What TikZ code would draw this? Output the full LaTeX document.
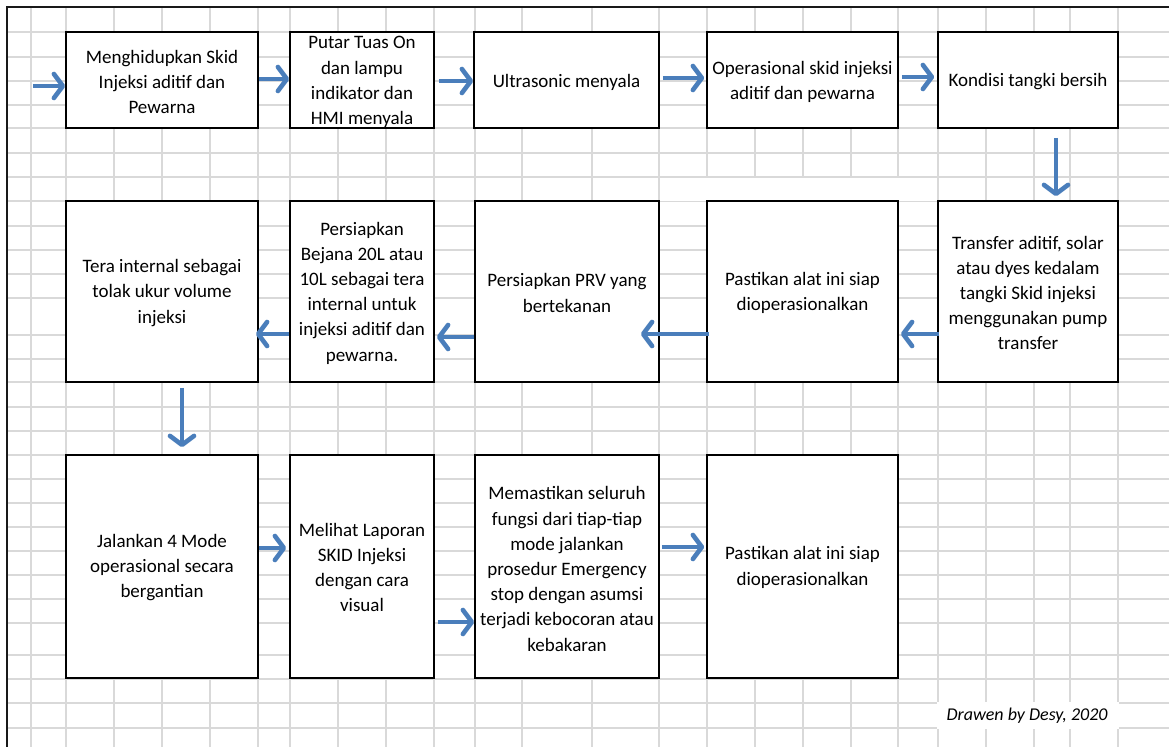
\documentclass[tikz,border=0pt]{standalone}
\usepackage{fontspec}
\setmainfont{Carlito}
\usetikzlibrary{arrows.meta}
\definecolor{gridgray}{HTML}{D9D9D9}
\definecolor{flowblue}{HTML}{4A7EBB}
\newcommand{\boxfont}{\fontsize{19}{25.2}\selectfont}

\begin{document}
\begin{tikzpicture}[x=1pt,y=-1pt,
  stepbox/.style={draw=black, line width=1.6pt, fill=white, inner sep=0pt},
  steptext/.style={inner sep=0pt, align=center, font=\boxfont},
  gridline/.style={draw=gridgray, line width=1.5pt},
  flow/.style={draw=flowblue, line width=4.6pt,
    -{Straight Barb[length=9pt,width=24pt,round]}}]

\useasboundingbox (0,0) rectangle (1169,747);
\fill[white] (0,0) rectangle (1169,747);

% spreadsheet grid
\foreach \gx in {31,66,114,162,210,258,290,338,386,434,475,522,592,659,707,755,803,851,898,938,986,1034,1070,1118}
  \draw[gridline] (\gx,7) -- (\gx,747);
\foreach \gy in {32,57,81,105,128,153,177,201,226,250,274,298,335,359,382,407,431,455,479,503,527,551,575,599,623,655,679,703,728}
  \draw[gridline] (7,\gy) -- (1169,\gy);
% blank cells
\fill[white] (659.8,178.3) rectangle (937.2,200.5);
\fill[white] (937.2,702) rectangle (1118.8,729);

% sheet frame
\draw[line width=1.8pt, black!90] (1169,7) -- (7,7) -- (7,747);

% first row
\node[stepbox, minimum width=192pt, minimum height=96pt] (A) at (162,80) {};
\node[steptext] (At) at ([yshift=-2pt]A.center) {Menghidupkan Skid\\Injeksi aditif dan\\Pewarna};
\node[stepbox, minimum width=144pt, minimum height=96pt] (B) at (362,80) {};
\node[steptext] (Bt) at ([yshift=-2pt]B.center) {Putar Tuas On\\dan lampu\\indikator dan\\HMI menyala};
\node[stepbox, minimum width=185pt, minimum height=96pt] (C) at (566.5,80) {};
\node[steptext] (Ct) at ([yshift=-2pt]C.center) {Ultrasonic menyala};
\node[stepbox, minimum width=191pt, minimum height=96pt] (D) at (802.5,80) {};
\node[steptext] (Dt) at ([yshift=-2pt]D.center) {Operasional skid injeksi\\aditif dan pewarna};
\node[stepbox, minimum width=180pt, minimum height=96pt] (E) at (1028,80) {};
\node[steptext] (Et) at ([yshift=-2pt]E.center) {Kondisi tangki bersih};

% second row
\node[stepbox, minimum width=192pt, minimum height=181pt] (F) at (162,291.5) {};
\node[steptext] (Ft) at ([yshift=-1.5pt]F.center) {Tera internal sebagai\\tolak ukur volume\\injeksi};
\node[stepbox, minimum width=144pt, minimum height=181pt] (G) at (362,291.5) {};
\node[steptext] (Gt) at ([yshift=-1.5pt]G.center) {Persiapkan\\Bejana 20L atau\\10L sebagai tera\\internal untuk\\injeksi aditif dan\\pewarna.};
\node[stepbox, minimum width=184pt, minimum height=181pt] (H) at (567,291.5) {};
\node[steptext] (Ht) at ([yshift=-1.5pt]H.center) {Persiapkan PRV yang\\bertekanan};
\node[stepbox, minimum width=191pt, minimum height=181pt] (I) at (802.5,291.5) {};
\node[steptext] (It) at ([yshift=-1.5pt]I.center) {Pastikan alat ini siap\\dioperasionalkan};
\node[stepbox, minimum width=180pt, minimum height=181pt] (J) at (1028,291.5) {};
\node[steptext] (Jt) at ([yshift=-1.5pt]J.center) {Transfer aditif, solar\\atau dyes kedalam\\tangki Skid injeksi\\menggunakan pump\\transfer};

% third row
\node[stepbox, minimum width=192pt, minimum height=223pt] (K) at (162,566.5) {};
\node[steptext] (Kt) at ([yshift=-1pt]K.center) {Jalankan 4 Mode\\operasional secara\\bergantian};
\node[stepbox, minimum width=144pt, minimum height=223pt] (L) at (362,566.5) {};
\node[steptext] (Lt) at ([yshift=-1pt]L.center) {Melihat Laporan\\SKID Injeksi\\dengan cara\\visual};
\node[stepbox, minimum width=184pt, minimum height=223pt] (M) at (567,566.5) {};
\node[steptext] (Mt) at ([yshift=-2.5pt]M.center) {Memastikan seluruh\\fungsi dari tiap-tiap\\mode jalankan\\prosedur Emergency\\stop dengan asumsi\\terjadi kebocoran atau\\kebakaran};
\node[stepbox, minimum width=191pt, minimum height=223pt] (N) at (802.5,566.5) {};
\node[steptext] (Nt) at ([yshift=-1pt]N.center) {Pastikan alat ini siap\\dioperasionalkan};

\node[font=\fontsize{18}{20}\selectfont\itshape] (sig) at (1027,716) {Drawen by Desy, 2020};

% connectors
\coordinate (start) at (33,86);
\draw[flow] (start) -- (start -| A.west);
\draw[flow] ([yshift=1pt]A.east) -- ([yshift=1pt]B.west);
\draw[flow, shorten <=4pt] ([yshift=-1pt]B.east) -- ([yshift=-1pt]C.west);
\draw[flow, shorten <=3pt, shorten >=2pt] ([yshift=2pt]C.east) -- ([yshift=2pt]D.west);
\draw[flow, shorten <=3pt, shorten >=3pt] ([yshift=3pt]D.east) -- ([yshift=3pt]E.west);
\draw[flow, shorten <=9pt, shorten >=4pt] ([xshift=28pt]E.south) -- ([xshift=28pt]J.north);
\draw[flow, shorten <=-2pt, shorten >=2pt] ([yshift=-42.5pt]J.west) -- ([yshift=-42.5pt]I.east);
\draw[flow, shorten <=-3pt, shorten >=-19pt] ([yshift=-42.5pt]I.west) -- ([yshift=-42.5pt]H.east);
\draw[flow, shorten >=2pt] ([yshift=-45.5pt]H.west) -- ([yshift=-45.5pt]G.east);
\draw[flow, shorten >=-3pt] ([yshift=-42.5pt]G.west) -- ([yshift=-42.5pt]F.east);
\draw[flow, shorten <=5pt, shorten >=7pt] ([xshift=20pt]F.south) -- ([xshift=20pt]K.north);
\draw[flow, shorten >=3pt] ([yshift=18.5pt]K.east) -- ([yshift=18.5pt]L.west);
\draw[flow, shorten <=3pt] ([yshift=-55.5pt]L.east) -- ([yshift=-55.5pt]M.west);
\draw[flow, shorten <=2pt, shorten >=2pt] ([yshift=19.5pt]M.east) -- ([yshift=19.5pt]N.west);
\end{tikzpicture}
\end{document}
